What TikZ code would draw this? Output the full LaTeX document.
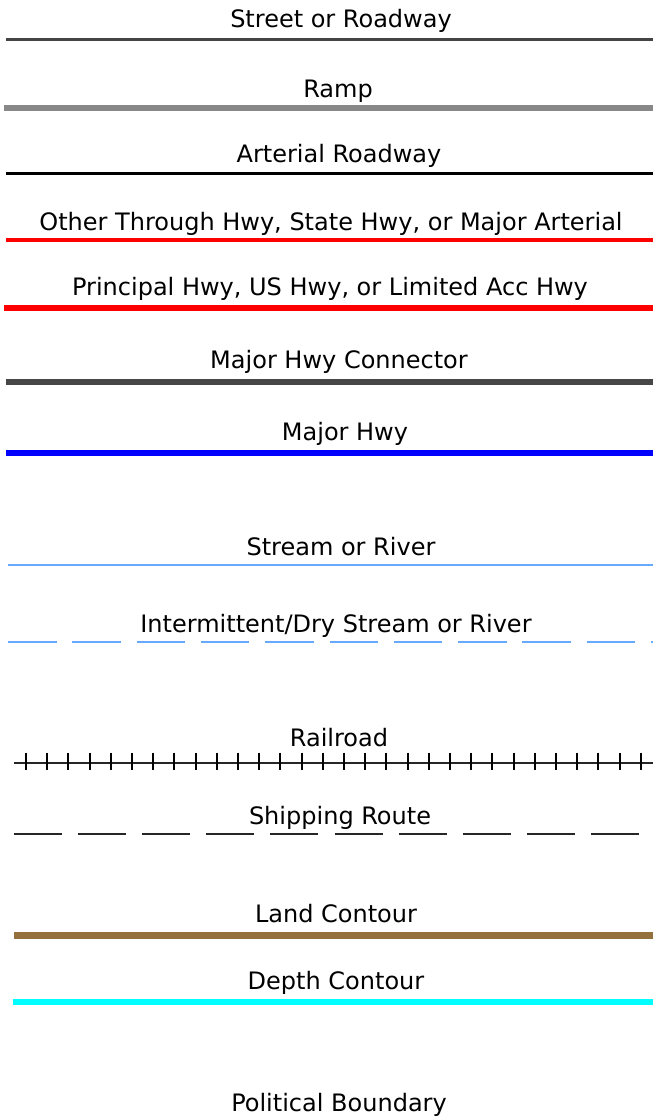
\documentclass[tikz,border=0pt]{standalone}
\usepackage{fontspec}
\setmainfont{DejaVu Sans}
\begin{document}
\begin{tikzpicture}[x=1pt,y=-1pt,
  lbl/.style={anchor=base,inner sep=0pt,font=\fontsize{24}{27}\selectfont,text=black},
  road/.style={line width=#1},
]
\definecolor{streetgray}{HTML}{444444}
\definecolor{rampgray}{HTML}{888888}
\definecolor{connectorgray}{HTML}{474747}
\definecolor{streamblue}{HTML}{66AAFF}
\definecolor{landbrown}{HTML}{94703F}
\definecolor{depthcyan}{HTML}{00FFFF}
\useasboundingbox[fill=white] (0,0) rectangle (653,1118);

% labels
\node[lbl] (t1) at (341,28) {Street or Roadway};
\node[lbl] (t2) at (338,98) {Ramp};
\node[lbl] (t3) at (339,163) {Arterial Roadway};
\node[lbl] (t4) at (331,230) {Other Through Hwy, State Hwy, or Major Arterial};
\node[lbl] (t5) at (330,295) {Principal Hwy, US Hwy, or Limited Acc Hwy};
\node[lbl] (t6) at (339,368) {Major Hwy Connector};
\node[lbl] (t7) at (345,440) {Major Hwy};
\node[lbl] (t8) at (341,555) {Stream or River};
\node[lbl] (t9) at (336,632) {Intermittent/Dry Stream or River};
\node[lbl] (t10) at (339,746) {Railroad};
\node[lbl] (t11) at (340,824) {Shipping Route};
\node[lbl] (t12) at (336,922) {Land Contour};
\node[lbl] (t13) at (336,989) {Depth Contour};
\node[lbl] (t14) at (339,1111) {Political Boundary};

% line end points
\coordinate (s1a) at (6,39.7);   \coordinate (s1b) at (653,39.7);
\coordinate (s2a) at (4,108.3);  \coordinate (s2b) at (653,108.3);
\coordinate (s3a) at (6,174);    \coordinate (s3b) at (653,174);
\coordinate (s4a) at (6,240);    \coordinate (s4b) at (653,240);
\coordinate (s5a) at (4,308.3);  \coordinate (s5b) at (653,308.3);
\coordinate (s6a) at (6,381.7);  \coordinate (s6b) at (653,381.7);
\coordinate (s7a) at (6,452.7);  \coordinate (s7b) at (653,452.7);
\coordinate (s8a) at (8,565);    \coordinate (s8b) at (653,565);
\coordinate (s9a) at (8,641.7);  \coordinate (s9b) at (653,641.7);
\coordinate (s10a) at (14,762.7); \coordinate (s10b) at (653,762.7);
\coordinate (s11a) at (14,834.3); \coordinate (s11b) at (653,834.3);
\coordinate (s12a) at (14,935.7); \coordinate (s12b) at (653,935.7);
\coordinate (s13a) at (13,1001.5); \coordinate (s13b) at (653,1001.5);

\draw[road=3, streetgray] (s1a) -- (s1b);
\draw[road=6, rampgray] (s2a) -- (s2b);
\draw[road=3, black] (s3a) -- (s3b);
\draw[road=4.5, red] (s4a) -- (s4b);
\draw[road=6, red] (s5a) -- (s5b);
\draw[road=6, connectorgray] (s6a) -- (s6b);
\draw[road=6, blue] (s7a) -- (s7b);
\draw[road=1.8, streamblue] (s8a) -- (s8b);
\draw[road=2.2, streamblue, dash pattern=on 48.5pt off 15.8pt] (s9a) -- (s9b);
\draw[road=1.8, black!85] (s10a) -- (s10b);
\foreach \k in {0,...,29}{
  \draw[road=2, black] ({26+21.2*\k},752.5) -- ({26+21.2*\k},770);
}
\draw[road=2, black!85, dash pattern=on 48pt off 16.1pt] (s11a) -- (s11b);
\draw[road=7, landbrown] (s12a) -- (s12b);
\draw[road=6, depthcyan] (s13a) -- (s13b);
\end{tikzpicture}
\end{document}
